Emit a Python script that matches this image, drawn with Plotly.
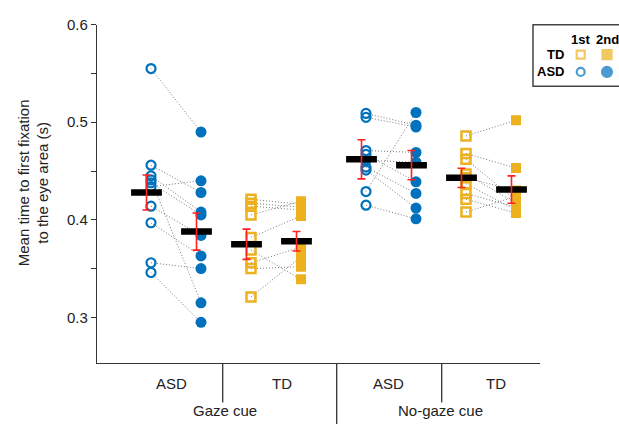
import plotly.graph_objects as go

# ---------------- data ----------------
groups = ["ASD", "TD", "ASD", "TD"]
conditions = ["Gaze cue", "No-gaze cue"]

asd_gaze_1st = [0.555, 0.456, 0.445, 0.441, 0.438, 0.434, 0.414, 0.397, 0.356, 0.346]
asd_gaze_2nd = [0.490, 0.428, 0.408, 0.315, 0.405, 0.440, 0.384, 0.363, 0.350, 0.295]
td_gaze_1st = [0.421, 0.417, 0.414, 0.405, 0.382, 0.369, 0.356, 0.350, 0.321]
td_gaze_2nd = [0.416, 0.413, 0.410, 0.419, 0.404, 0.339, 0.372, 0.352, 0.362]
asd_nogaze_1st = [0.509, 0.505, 0.471, 0.467, 0.461, 0.454, 0.451, 0.429, 0.415]
asd_nogaze_2nd = [0.497, 0.495, 0.469, 0.439, 0.459, 0.427, 0.412, 0.510, 0.401]
td_nogaze_1st = [0.486, 0.468, 0.462, 0.447, 0.443, 0.437, 0.427, 0.421, 0.408]
td_nogaze_2nd = [0.502, 0.453, 0.420, 0.417, 0.430, 0.410, 0.413, 0.407, 0.424]

means_1st = [0.428, 0.375, 0.462, 0.443]
means_2nd = [0.388, 0.378, 0.456, 0.431]
sem_1st = [0.018, 0.0155, 0.020, 0.0098]
sem_2nd = [0.019, 0.010, 0.015, 0.014]

y_tickvals = [0.25, 0.3, 0.35, 0.4, 0.45, 0.5, 0.55, 0.6]
y_ticktext = ["", "0.3", "", "0.4", "", "0.5", "", "0.6"]

# ---------------- style ----------------
BLUE = "#0072BD"
ORANGE = "#EDB120"
FONT = "Arial, Liberation Sans, sans-serif"
TXT = "#222222"
AX = "#333333"

W, H = 619, 424
L, R, T, B = 97, 540, 16, 362  # plot area in pixels
px_per_unit = 50.0
x0_px = 151.0  # pixel position of x=1
xr = [1 + (L - x0_px) / px_per_unit, 1 + (R - x0_px) / px_per_unit]
y_lo = 0.6 - (B - T) / 997.0

group_x = [1.0, 3.0, 5.3, 7.3]
mean_off = -0.09

series = [
    (asd_gaze_1st, asd_gaze_2nd, "asd"),
    (td_gaze_1st, td_gaze_2nd, "td"),
    (asd_nogaze_1st, asd_nogaze_2nd, "asd"),
    (td_nogaze_1st, td_nogaze_2nd, "td"),
]

fig = go.Figure()

# connecting dotted lines
for (a, b, kind), gx in zip(series, group_x):
    xs, ys = [], []
    for v1, v2 in zip(a, b):
        xs += [gx, gx + 1, None]
        ys += [v1, v2, None]
    fig.add_trace(go.Scatter(x=xs, y=ys, mode="lines",
                             line=dict(color="#7a7a7a", width=1, dash="1px,2px"),
                             hoverinfo="skip", showlegend=False))

# markers
for (a, b, kind), gx in zip(series, group_x):
    if kind == "asd":
        fig.add_trace(go.Scatter(x=[gx] * len(a), y=a, mode="markers",
                                 marker=dict(symbol="circle-open", size=9, color=BLUE,
                                             line=dict(width=2.2, color=BLUE)),
                                 showlegend=False))
        fig.add_trace(go.Scatter(x=[gx + 1] * len(b), y=b, mode="markers",
                                 marker=dict(symbol="circle", size=11, color=BLUE),
                                 showlegend=False))
    else:
        fig.add_trace(go.Scatter(x=[gx] * len(a), y=a, mode="markers",
                                 marker=dict(symbol="square-open", size=9, color=ORANGE,
                                             line=dict(width=2.5, color=ORANGE)),
                                 showlegend=False))
        fig.add_trace(go.Scatter(x=[gx + 1] * len(b), y=b, mode="markers",
                                 marker=dict(symbol="square", size=10, color=ORANGE),
                                 showlegend=False))

# mean bars and error bars
mx = []
my = []
me = []
for i, gx in enumerate(group_x):
    mx += [gx + mean_off, gx + 1 + mean_off]
    my += [means_1st[i], means_2nd[i]]
    me += [sem_1st[i], sem_2nd[i]]

fig.add_trace(go.Scatter(x=mx, y=my, mode="markers",
                         marker=dict(symbol="line-ew", size=22,
                                     line=dict(width=6.5, color="black")),
                         showlegend=False))
fig.add_trace(go.Scatter(x=mx, y=my, mode="markers",
                         marker=dict(size=1, color="rgba(0,0,0,0)"),
                         error_y=dict(type="data", array=me, visible=True,
                                      color="#FF2020", thickness=1.6, width=4),
                         showlegend=False))

# ---------------- overlay (pixel space) ----------------
fig.add_trace(go.Scatter(x=[580.7, 607.0], y=[46.7, 46.7], xaxis="x2", yaxis="y2",
                         mode="markers",
                         marker=dict(symbol=["square-open", "square"], size=[8, 9],
                                     color=ORANGE, line=dict(width=2.2, color=ORANGE)),
                         showlegend=False, hoverinfo="skip"))
fig.add_trace(go.Scatter(x=[580.7, 607.0], y=[64.3, 64.3], xaxis="x2", yaxis="y2",
                         mode="markers",
                         marker=dict(symbol=["circle-open", "circle"], size=[8, 10],
                                     color=BLUE, line=dict(width=2.2, color=BLUE)),
                         showlegend=False, hoverinfo="skip"))

shapes = [
    dict(type="rect", xref="x2", yref="y2", x0=533, x1=640, y0=16, y1=79,
         line=dict(color="#444444", width=1.5), fillcolor="rgba(0,0,0,0)"),
    dict(type="line", xref="x2", yref="y2", x0=222.7, x1=222.7, y0=B, y1=B + 40,
         line=dict(color=AX, width=1.3)),
    dict(type="line", xref="x2", yref="y2", x0=336.7, x1=336.7, y0=B, y1=H,
         line=dict(color=AX, width=1.3)),
    dict(type="line", xref="x2", yref="y2", x0=441.7, x1=441.7, y0=B, y1=B + 40,
         line=dict(color=AX, width=1.3)),
]

annotations = []
for lbl, xp in zip(groups, [171, 282, 388, 496]):
    annotations.append(dict(x=xp, y=383, xref="x2", yref="y2", text=lbl,
                            showarrow=False, font=dict(size=15, color=TXT, family=FONT)))
for lbl, xp in zip(conditions, [225, 440]):
    annotations.append(dict(x=xp, y=410, xref="x2", yref="y2", text=lbl,
                            showarrow=False, font=dict(size=15, color=TXT, family=FONT)))
annotations.append(dict(x=33, y=178, xref="x2", yref="y2",
                        text="Mean time to first fixation<br>to the eye area (s)",
                        textangle=-90, showarrow=False,
                        font=dict(size=15, color=TXT, family=FONT)))
for t, xp in zip(["1st", "2nd"], [580.5, 607.5]):
    annotations.append(dict(x=xp, y=30.7, xref="x2", yref="y2", text="<b>%s</b>" % t,
                            showarrow=False, font=dict(size=13, color="black", family=FONT)))
for t, yp in zip(["TD", "ASD"], [46.7, 64.3]):
    annotations.append(dict(x=566, y=yp, xref="x2", yref="y2", text="<b>%s</b>" % t,
                            xanchor="right", showarrow=False,
                            font=dict(size=13, color="black", family=FONT)))

fig.update_layout(
    width=W, height=H,
    margin=dict(l=0, r=0, t=0, b=0),
    paper_bgcolor="white", plot_bgcolor="rgba(0,0,0,0)",
    font=dict(family=FONT, size=15, color=TXT),
    hovermode=False,
    xaxis=dict(domain=[L / W, R / W], range=xr, showgrid=False, zeroline=False,
               showline=True, linecolor=AX, linewidth=1.3, showticklabels=False,
               ticks="", fixedrange=True),
    yaxis=dict(domain=[(H - B) / H, (H - T) / H], range=[y_lo, 0.6], showgrid=False,
               zeroline=False, showline=True, linecolor=AX, linewidth=1.3,
               ticks="outside", ticklen=5, tickwidth=1.3, tickcolor=AX,
               tickvals=y_tickvals, ticktext=y_ticktext, fixedrange=True,
               tickfont=dict(size=15, color=TXT, family=FONT)),
    xaxis2=dict(domain=[0, 1], range=[0, W], anchor="y2", visible=False, fixedrange=True),
    yaxis2=dict(domain=[0, 1], range=[H, 0], anchor="x2", visible=False, fixedrange=True),
    shapes=shapes,
    annotations=annotations,
    showlegend=False,
)

fig.write_html("out.html", config={"displayModeBar": False},
               post_script="document.body.style.margin='0';document.body.style.overflow='hidden';")
